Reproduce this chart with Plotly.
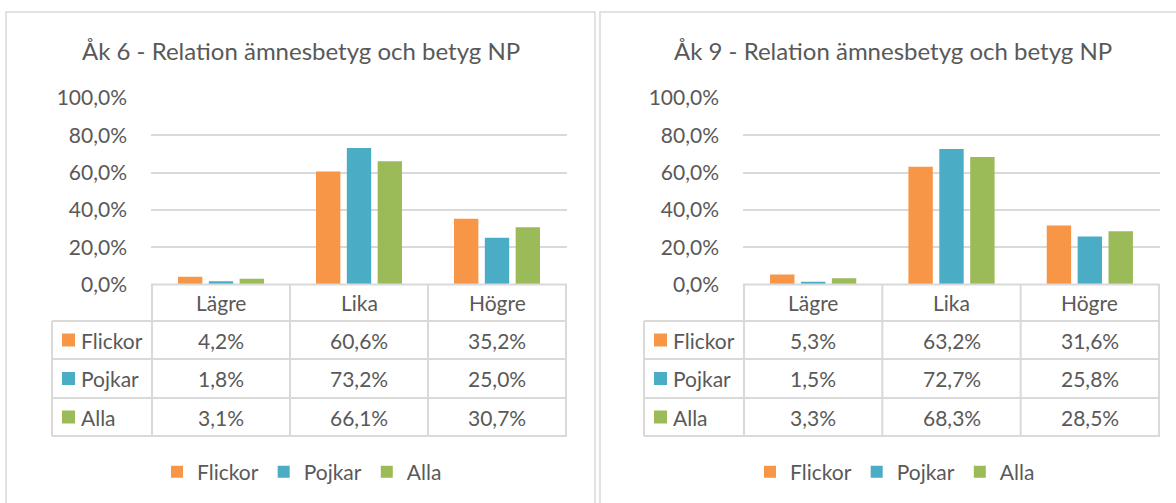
import plotly.graph_objects as go

W, H = 1176, 503

categories = ["Lägre", "Lika", "Högre"]
series_names = ["Flickor", "Pojkar", "Alla"]
colors = ["#F79646", "#4BACC6", "#9BBB59"]

titles = ["Åk 6 - Relation ämnesbetyg och betyg NP", "Åk 9 - Relation ämnesbetyg och betyg NP"]

ak6_flickor = [4.2, 60.6, 35.2]
ak6_pojkar = [1.8, 73.2, 25.0]
ak6_alla = [3.1, 66.1, 30.7]

ak9_flickor = [5.3, 63.2, 31.6]
ak9_pojkar = [1.5, 72.7, 25.8]
ak9_alla = [3.3, 68.3, 28.5]

y_ticks = [0, 20, 40, 60, 80, 100]
y_ticklabels = [f"{v:.1f}%".replace(".", ",") for v in y_ticks]

panels_data = [
    [ak6_flickor, ak6_pojkar, ak6_alla],
    [ak9_flickor, ak9_pojkar, ak9_alla],
]

FONT = "Lato"
TXT = "#595959"
GRID = "#D9D9D9"


def px(x):
    return x / W


def py(y):
    return 1 - y / H


# layout geometry (pixels)
panel_boxes = [(6, 12, 595, 520), (600, 12, 1190, 520)]
plot_x = [(151, 567), (743, 1160)]
key_left = [52, 644]
title_cx = [301, 893]
legend_left = [171, 764]
y_top, y_zero = 98, 284.5
row_lines = [284.5, 321, 359, 398, 436]
row_centers = [340, 378.5, 417]
header_cy = 302.5
title_cy = 50
legend_cy = 472

fig = go.Figure()

for p, data in enumerate(panels_data):
    xa = "x" if p == 0 else "x2"
    ya = "y" if p == 0 else "y2"
    leg = "legend" if p == 0 else "legend2"
    for name, vals, col in zip(series_names, data, colors):
        fig.add_trace(go.Bar(
            x=categories, y=vals, name=name, marker_color=col,
            marker_line_width=0, xaxis=xa, yaxis=ya, legend=leg,
            hoverinfo="skip",
        ))

shapes = []
annotations = []

for p, data in enumerate(panels_data):
    x0p, x1p = plot_x[p]
    kl = key_left[p]
    xref = "x" if p == 0 else "x2"
    # panel border
    bx0, by0, bx1, by1 = panel_boxes[p]
    shapes.append(dict(type="rect", xref="paper", yref="paper",
                       x0=px(bx0), x1=px(bx1), y0=py(by1), y1=py(by0),
                       line=dict(color=GRID, width=1.5), layer="below"))
    # title
    annotations.append(dict(text=titles[p], xref="paper", yref="paper",
                            x=px(title_cx[p]), y=py(title_cy), xanchor="center",
                            yanchor="middle", showarrow=False,
                            font=dict(family=FONT, size=24, color=TXT)))
    # table horizontal lines
    for i, ry in enumerate(row_lines):
        left = x0p if i == 0 else kl
        shapes.append(dict(type="line", xref="paper", yref="paper",
                           x0=px(left), x1=px(x1p), y0=py(ry), y1=py(ry),
                           line=dict(color=GRID, width=2)))
    # key column left edge
    shapes.append(dict(type="line", xref="paper", yref="paper",
                       x0=px(kl), x1=px(kl), y0=py(row_lines[1]), y1=py(row_lines[-1]),
                       line=dict(color=GRID, width=2)))
    # category boundaries
    for b in range(len(categories) + 1):
        shapes.append(dict(type="line", xref=xref, yref="paper",
                           x0=b - 0.5, x1=b - 0.5, y0=py(row_lines[0]), y1=py(row_lines[-1]),
                           line=dict(color=GRID, width=2)))
    # header labels
    for ci, cat in enumerate(categories):
        annotations.append(dict(text=cat, xref=xref, yref="paper", x=ci,
                                y=py(header_cy), xanchor="center", yanchor="middle",
                                showarrow=False, font=dict(family=FONT, size=21, color=TXT)))
    # rows
    for ri, (name, vals, col) in enumerate(zip(series_names, data, colors)):
        cy = row_centers[ri]
        shapes.append(dict(type="rect", xref="paper", yref="paper",
                           x0=px(kl + 10), x1=px(kl + 23), y0=py(cy + 6.5), y1=py(cy - 6.5),
                           fillcolor=col, line=dict(width=0)))
        annotations.append(dict(text=name, xref="paper", yref="paper", x=px(kl + 27),
                                y=py(cy), xanchor="left", yanchor="middle", showarrow=False,
                                font=dict(family=FONT, size=21, color=TXT)))
        for ci, v in enumerate(vals):
            annotations.append(dict(text=f"{v:.1f}%".replace(".", ","), xref=xref,
                                    yref="paper", x=ci, y=py(cy), xanchor="center",
                                    yanchor="middle", showarrow=False,
                                    font=dict(family=FONT, size=21, color=TXT)))

axis_common_y = dict(range=[0, 100], tickmode="array", tickvals=y_ticks, ticktext=y_ticklabels,
                     showgrid=True, gridcolor=GRID, gridwidth=1.5, zeroline=False,
                     showline=False, ticks="", ticklabelstandoff=23, automargin=False,
                     tickfont=dict(family=FONT, size=21, color=TXT), fixedrange=True)
axis_common_x = dict(type="category", showticklabels=False, showgrid=False, automargin=False,
                     zeroline=False, showline=False, ticks="", fixedrange=True)

legend_common = dict(orientation="h", yanchor="middle", y=py(legend_cy), xanchor="left",
                     font=dict(family=FONT, size=21, color=TXT), bgcolor="rgba(0,0,0,0)",
                     itemclick=False, itemdoubleclick=False)

fig.update_layout(
    width=W, height=H,
    margin=dict(l=0, r=0, t=0, b=0, autoexpand=False),
    paper_bgcolor="white", plot_bgcolor="white",
    separators=", ",
    barmode="group", bargap=0.33, bargroupgap=0.21,
    showlegend=True,
    xaxis=dict(domain=[px(plot_x[0][0]), px(plot_x[0][1])], anchor="y", **axis_common_x),
    yaxis=dict(domain=[py(y_zero), py(y_top)], anchor="x", **axis_common_y),
    xaxis2=dict(domain=[px(plot_x[1][0]), px(plot_x[1][1])], anchor="y2", **axis_common_x),
    yaxis2=dict(domain=[py(y_zero), py(y_top)], anchor="x2", **axis_common_y),
    legend=dict(x=px(legend_left[0] - 14), **legend_common),
    legend2=dict(x=px(legend_left[1] - 14), **legend_common),
    shapes=shapes,
    annotations=annotations,
    font=dict(family=FONT, color=TXT),
)

fig.write_html(
    "out.html",
    config={"displayModeBar": False, "responsive": False},
    post_script="document.body.style.margin='0';document.body.style.overflow='hidden';",
)
